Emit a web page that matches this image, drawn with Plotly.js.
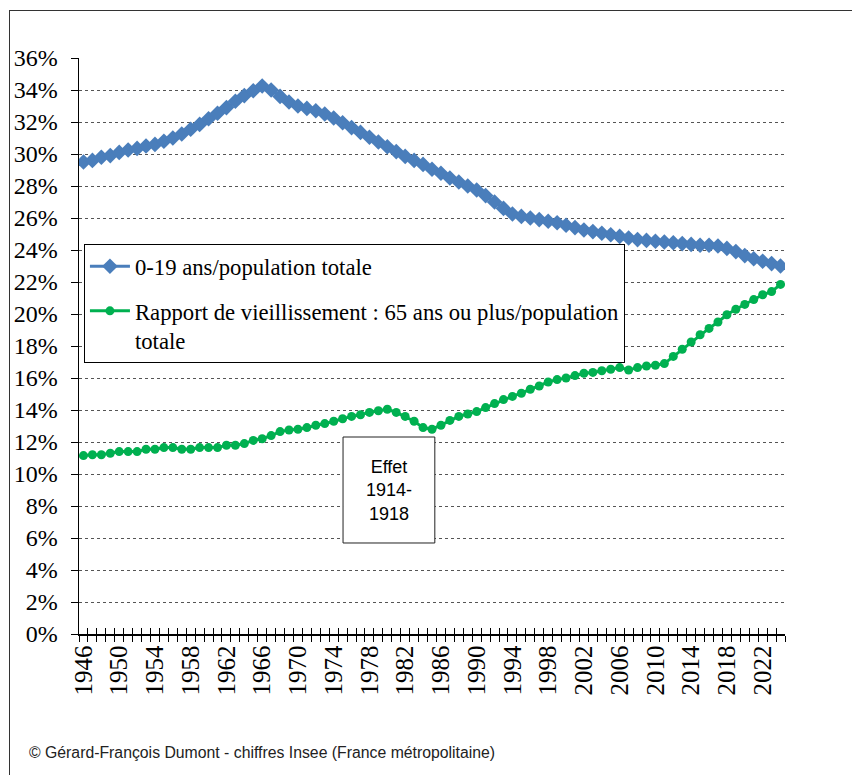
<!DOCTYPE html>
<html>
<head>
<meta charset="utf-8">
<script src="https://cdn.plot.ly/plotly-3.0.1.min.js"></script>
<style>
  html, body { margin:0; padding:0; background:#fff; }
  #wrap { position:relative; width:852px; height:775px; overflow:hidden; }
  #frame { position:absolute; left:9px; top:10px; width:900px; height:800px;
           border-left:1px solid #333; border-top:1px solid #333; pointer-events:none; z-index:5; }
  #chart { position:absolute; left:0; top:0; width:852px; height:775px; }
</style>
</head>
<body>
<div id="wrap">
  <div id="chart"></div>
  <div id="frame"></div>
</div>
<script>
// ---- data ----
const years = [];
for (let y = 1946; y <= 2024; y++) years.push(y);

const youngShare = [
  29.5, 29.6, 29.8, 29.9, 30.1, 30.25, 30.35, 30.5, 30.6, 30.8,
  31.0, 31.25, 31.55, 31.85, 32.2, 32.55, 32.9, 33.3, 33.65, 33.95,
  34.25, 34.0, 33.6, 33.25, 33.0, 32.85, 32.7, 32.5, 32.25, 31.95,
  31.65, 31.35, 31.05, 30.75, 30.45, 30.15, 29.85, 29.6, 29.35, 29.05,
  28.8, 28.5, 28.25, 28.0, 27.75, 27.4, 27.0, 26.6, 26.25, 26.1,
  26.0, 25.9, 25.8, 25.7, 25.55, 25.4, 25.25, 25.15, 25.05, 24.95,
  24.85, 24.75, 24.65, 24.6, 24.55, 24.5, 24.45, 24.4, 24.35, 24.3,
  24.3, 24.25, 24.1, 23.9, 23.65, 23.45, 23.3, 23.15, 23.0
];

const oldShare = [
  11.15, 11.2, 11.2, 11.3, 11.4, 11.4, 11.4, 11.55, 11.55, 11.65,
  11.65, 11.55, 11.55, 11.65, 11.65, 11.65, 11.8, 11.8, 11.9, 12.1,
  12.2, 12.4, 12.65, 12.75, 12.8, 12.9, 13.05, 13.15, 13.3, 13.45,
  13.6, 13.7, 13.85, 13.95, 14.05, 13.85, 13.6, 13.3, 12.9, 12.8,
  13.05, 13.35, 13.6, 13.75, 13.9, 14.15, 14.4, 14.65, 14.85, 15.05,
  15.3, 15.5, 15.75, 15.9, 16.0, 16.15, 16.3, 16.35, 16.45, 16.55,
  16.65, 16.5, 16.65, 16.75, 16.8, 16.9, 17.35, 17.8, 18.25, 18.7,
  19.1, 19.5, 19.95, 20.3, 20.6, 20.9, 21.2, 21.4, 21.85
];

const seriesNames = [
  "0-19 ans/population totale",
  "Rapport de vieillissement : 65 ans ou plus/population<br>totale"
];

const labelYears = years.filter(y => (y - 1946) % 4 === 0 && y <= 2022);
const labelText = labelYears.map(String);
const yTicks = [];
for (let v = 0; v <= 36; v += 2) yTicks.push(v);
const yTickText = yTicks.map(v => v + "%");

const annotationText = "Effet<br>1914-<br>1918";
const sourceText = "© Gérard-François Dumont - chiffres Insee (France métropolitaine)";

// ---- chart ----
const boundaries = years.map(y => y - 0.5).concat([years[years.length - 1] + 0.5]);
const xRange = [years[0] - 0.5, years[years.length - 1] + 0.5];
const serif = "Liberation Serif";

const traces = [
  {
    x: years, y: youngShare, name: seriesNames[0], legendgroup: "a",
    type: "scatter", mode: "lines+markers",
    line: { color: "#4A7EBB", width: 3 },
    marker: { symbol: "diamond", size: 12, color: "#4A7EBB" },
    hoverinfo: "skip"
  },
  {
    x: years, y: oldShare, name: seriesNames[1], legendgroup: "b",
    type: "scatter", mode: "lines+markers",
    line: { color: "#00B050", width: 3 },
    marker: { symbol: "circle", size: 9, color: "#00B050" },
    hoverinfo: "skip"
  },
  {
    // carrier for the second x axis (inside half of the crossing ticks); draws nothing
    x: years, y: oldShare, xaxis: "x2", yaxis: "y", type: "scatter", mode: "none",
    showlegend: false, hoverinfo: "skip"
  }
];

const layout = {
  width: 852, height: 775,
  margin: { l: 79, r: 67, t: 58, b: 141 },
  paper_bgcolor: "#fff", plot_bgcolor: "#fff",
  font: { family: serif, size: 23, color: "#000" },
  showlegend: true,
  legend: {
    x: 0.007, y: 0.677, xanchor: "left", yanchor: "top",
    bgcolor: "#fff", bordercolor: "#000", borderwidth: 1,
    font: { family: serif, size: 22.7, color: "#000" },
    tracegroupgap: 12, valign: "top", traceorder: "grouped", itemwidth: 40
  },
  xaxis: {
    type: "linear", range: xRange,
    tickmode: "array", tickvals: labelYears, ticktext: labelText,
    ticks: "", tickangle: -90,
    tickfont: { family: serif, size: 25, color: "#000" },
    minor: { tickmode: "array", tickvals: boundaries, ticks: "outside",
             ticklen: 6, tickcolor: "#000", tickwidth: 1, showgrid: false },
    showgrid: false, zeroline: false,
    showline: true, linecolor: "#000", linewidth: 1.5, fixedrange: true
  },
  xaxis2: {
    type: "linear", range: xRange, overlaying: "x", anchor: "y", side: "bottom",
    tickmode: "array", tickvals: boundaries,
    ticks: "inside", ticklen: 6, tickcolor: "#000", tickwidth: 1,
    showticklabels: false, showgrid: false, zeroline: false, showline: false, fixedrange: true
  },
  yaxis: {
    range: [0, 36], tickmode: "array", tickvals: yTicks, ticktext: yTickText,
    ticks: "outside", ticklen: 7, tickcolor: "#000",
    tickfont: { family: serif, size: 24, color: "#000" },
    ticklabelstandoff: 8,
    showgrid: true, gridcolor: "#555", griddash: "dot", gridwidth: 1,
    zeroline: false, showline: true, linecolor: "#000", linewidth: 1.5, fixedrange: true
  },
  shapes: [
    {
      type: "rect", xref: "paper", yref: "paper",
      x0: 0.374, x1: 0.504, y0: 0.158, y1: 0.342,
      line: { color: "#222", width: 1 }, fillcolor: "#fff", layer: "above"
    }
  ],
  annotations: [
    {
      text: annotationText, xref: "paper", yref: "paper",
      x: 0.439, y: 0.25, xanchor: "center", yanchor: "middle",
      showarrow: false, align: "center",
      font: { family: "Liberation Sans", size: 18, color: "#000" }
    },
    {
      text: sourceText, xref: "paper", yref: "paper",
      x: -0.0737, y: -0.205, xanchor: "left", yanchor: "middle",
      showarrow: false, align: "left",
      font: { family: "Liberation Sans", size: 15.8, color: "#222" }
    }
  ]
};

Plotly.newPlot("chart", traces, layout, { staticPlot: true, displayModeBar: false });
</script>
</body>
</html>
